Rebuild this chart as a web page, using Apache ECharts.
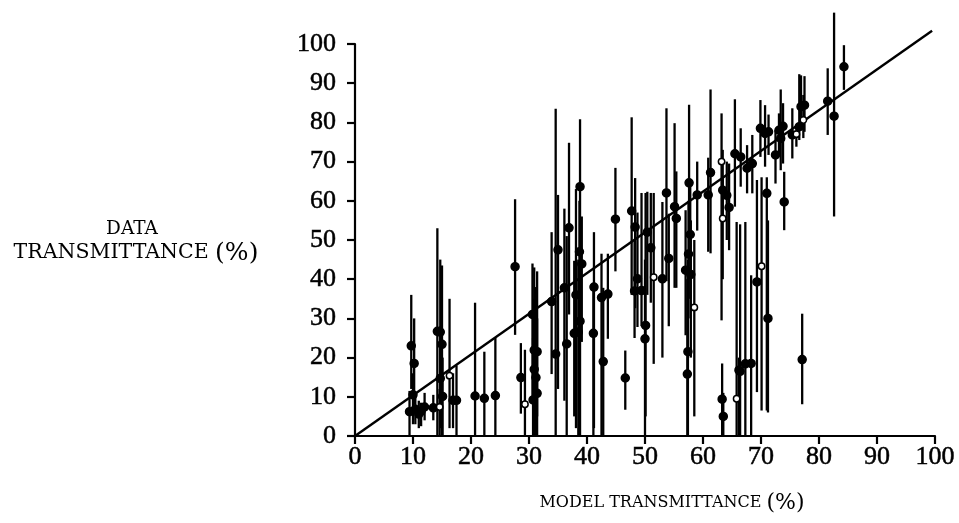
<!DOCTYPE html>
<html>
<head>
<meta charset="utf-8">
<script src="https://cdn.jsdelivr.net/npm/echarts@6/dist/echarts.min.js"></script>
<style>html,body{margin:0;padding:0;background:#fff;}#chart{width:959px;height:523px;}</style>
</head>
<body>
<div id="chart"></div>
<script>
// [model %, data %, error low, error high]
const filledPoints = [
  [9.7, 23, 12, 36], [10.2, 18.5, 8, 30], [10.0, 10.5, 3, 16], [9.4, 6.2, 0, 11.5],
  [10.4, 6.8, 3, 10], [11.0, 5.6, 2, 9], [11.4, 6.3, 2.5, 8.5], [12.0, 7.4, 4, 11],
  [13.5, 7.2, 4, 10.5], [14.2, 26.7, 0, 53], [14.7, 26.5, 5, 45], [15.0, 23.4, 0, 43.5],
  [14.7, 14.7, 2, 28], [15.1, 10.1, 0, 20], [16.9, 9.1, 2, 16], [17.5, 9.1, 0, 18],
  [20.7, 10.2, 0, 34], [22.3, 9.6, 0, 21.5], [24.2, 10.3, 0, 25], [27.6, 43.2, 25.8, 60.4],
  [28.6, 14.9, 5.7, 23.7],
  [30.6, 31, 10, 44], [30.9, 21.9, 0, 43], [31.4, 21.5, 5, 42], [30.9, 17, 0, 35],
  [31.4, 10.9, 0, 30], [30.7, 9.2, 0, 25], [31.2, 14.9, 0, 38], [33.9, 34.3, 15.8, 52],
  [35.0, 47.5, 12, 61.5], [34.6, 20.9, 0, 83.5], [36.1, 37.8, 9, 58], [36.5, 23.5, 0, 51],
  [36.9, 53.1, 31, 74.8], [37.8, 26.2, 5, 44.7], [38.1, 36, 2, 63], [38.8, 63.6, 45.5, 80.8],
  [39.1, 43.9, 24, 56], [38.7, 47, 30, 60], [38.8, 29.3, 0, 50], [38.5, 26.5, 0, 45],
  [41.2, 38, 2, 52], [41.1, 26.2, 0, 38], [42.5, 35.3, 0, 46.5], [42.8, 19, 0, 37.8],
  [43.6, 36.2, 24.8, 46.5], [44.9, 55.3, 42, 68.4], [46.6, 14.8, 6.7, 21.8], [47.7, 57.4, 36, 81.3],
  [48.3, 53.3, 32.6, 65.8], [48.7, 40.1, 27.8, 57], [48.2, 37, 25, 50], [49.4, 37.1, 28, 62],
  [50.1, 28.2, 5, 62], [50.0, 24.8, 0, 45], [50.4, 52, 36, 62.3], [51.0, 48, 34, 62],
  [53.0, 40.1, 20, 59.7], [53.7, 62, 39.5, 83.6], [54.1, 45.3, 28, 56.7], [55.1, 58.5, 37.8, 79.8],
  [55.4, 55.5, 37.8, 67.5], [57.0, 42.3, 25.7, 57.6], [57.6, 64.6, 52, 84.5], [57.8, 51.4, 35, 65],
  [57.5, 46.4, 30, 60], [57.9, 41.2, 20, 55], [57.4, 21.5, 0, 45], [57.3, 15.8, 0, 40],
  [59.0, 61.5, 52.4, 70],
  [60.9, 61.5, 47, 71], [61.3, 67.2, 46.6, 88.4], [63.4, 62.7, 55, 73], [64.1, 61.4, 50, 70],
  [64.5, 58.3, 47.4, 69.5], [63.3, 9.4, 0, 18.5], [63.5, 5, 0, 11], [65.5, 72, 58.5, 85.9],
  [66.2, 16.8, 0, 20], [66.5, 71.2, 63.6, 78.5], [66.4, 16.5, 0, 54], [67.3, 18.4, 0, 54.6],
  [67.6, 68.3, 61.9, 74.2], [68.3, 18.5, 0, 41], [68.5, 69.5, 61.9, 76.8], [69.3, 39.3, 11.2, 65.3],
  [69.9, 78.5, 71.2, 85.7], [70.7, 77.2, 68.7, 84.4], [71.0, 61.9, 6.5, 66], [71.2, 30, 6, 55],
  [71.3, 77.6, 71.7, 82], [72.5, 71.7, 64.4, 78], [73.1, 78, 72, 82.3], [73.4, 75.9, 67.8, 88.4],
  [73.8, 79, 69.5, 84.9], [74.0, 59.7, 52.5, 67.4], [75.4, 76.8, 70.8, 83.6], [76.6, 78.9, 75.5, 92.3],
  [76.9, 84, 78, 92], [77.5, 84.4, 77.6, 91.8], [77.1, 19.5, 8.1, 31.2], [81.5, 85.4, 76.8, 93.8],
  [82.6, 81.6, 56, 108], [84.3, 94.2, 88.3, 99.7]
];
const openPoints = [
  [14.6, 7.4, 0, 12], [16.3, 15.4, 2, 35], [29.3, 8.1, 0, 22],
  [51.5, 40.5, 18.4, 62], [58.5, 32.8, 5, 50],
  [63.2, 70, 29.5, 82.3], [63.4, 55.5, 40, 66], [65.8, 9.5, 0, 54.6], [70.1, 43.3, 6.5, 66],
  [76.1, 77, 73.8, 79], [77.3, 80.6, 76, 87]
];
const diagonalLine = [[0, 0], [99.5, 103.4]];

const TICK_FONT = '"Liberation Serif", "DejaVu Serif", serif';
const NAME_FONT = '"DejaVu Serif", "Liberation Serif", serif';

function makeRender(open) {
  return function (params, api) {
    const x = api.value(0), y = api.value(1), lo = api.value(2), hi = api.value(3);
    const pT = api.coord([x, hi]), pB = api.coord([x, lo]), pC = api.coord([x, y]);
    return {
      type: 'group',
      children: [
        { type: 'line', shape: { x1: pT[0], y1: pT[1], x2: pB[0], y2: pB[1] },
          style: { stroke: '#000', lineWidth: 2.3 } },
        { type: 'circle', shape: { cx: pC[0], cy: pC[1], r: open ? 3.2 : 4.0 },
          style: { fill: open ? '#fff' : '#000', stroke: '#000', lineWidth: 1.5 } }
      ]
    };
  };
}

const chart = echarts.init(document.getElementById('chart'), null, { renderer: 'canvas' });
const axisCommon = {
  type: 'value', min: 0, max: 100, interval: 10,
  axisLine: { show: true, lineStyle: { color: '#000', width: 2.2 } },
  axisTick: { show: true, length: 8, lineStyle: { color: '#000', width: 2.2 } },
  splitLine: { show: false },
  axisLabel: { color: '#000', fontFamily: TICK_FONT, fontSize: 26,
    textBorderColor: '#000', textBorderWidth: 0.5 }
};
chart.setOption({
  animation: false,
  backgroundColor: '#fff',
  grid: { left: 355, right: 24, top: 44, bottom: 87, containLabel: false },
  xAxis: Object.assign({}, axisCommon, {
    axisLabel: Object.assign({}, axisCommon.axisLabel, { margin: 8 })
  }),
  yAxis: Object.assign({}, axisCommon, {
    axisLabel: Object.assign({}, axisCommon.axisLabel, { margin: 19 })
  }),
  graphic: [
    { type: 'text', x: 672, y: 503, style: { text: '{a|MODEL TRANSMITTANCE }{b|(%)}', align: 'center',
        verticalAlign: 'middle', rich: {
          a: { fontFamily: NAME_FONT, fontSize: 16, fill: '#000' },
          b: { fontFamily: NAME_FONT, fontSize: 22, fill: '#000' } } } },
    { type: 'text', x: 132, y: 229, style: { text: 'DATA', fontFamily: NAME_FONT, fontSize: 18.5,
        fill: '#000', align: 'center', verticalAlign: 'middle' } },
    { type: 'text', x: 136, y: 253, style: { text: '{a|TRANSMITTANCE }{b|(%)}', align: 'center',
        verticalAlign: 'middle', rich: {
          a: { fontFamily: NAME_FONT, fontSize: 20.5, fill: '#000' },
          b: { fontFamily: NAME_FONT, fontSize: 25, fill: '#000' } } } }
  ],
  series: [
    { type: 'line', data: diagonalLine, showSymbol: false, clip: false,
      lineStyle: { color: '#000', width: 2.4 }, z: 3 },
    { type: 'custom', data: filledPoints, renderItem: makeRender(false), clip: false,
      encode: { x: 0, y: [1, 2, 3] }, z: 4 },
    { type: 'custom', data: openPoints, renderItem: makeRender(true), clip: false,
      encode: { x: 0, y: [1, 2, 3] }, z: 5 }
  ]
});
</script>
</body>
</html>
